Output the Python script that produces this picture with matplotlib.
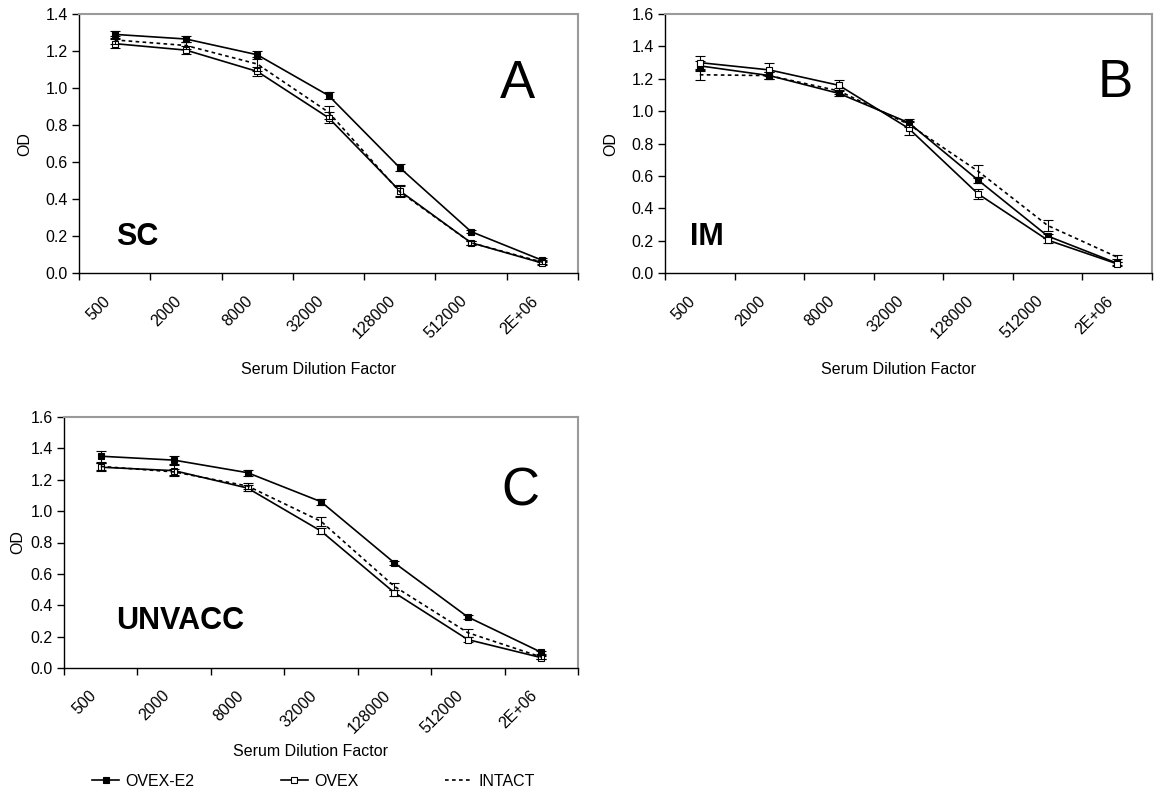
import matplotlib
matplotlib.use('Agg')
import matplotlib.pyplot as plt
import matplotlib.transforms as mtransforms
import numpy as np
from matplotlib.ticker import FormatStrFormatter
from matplotlib.lines import Line2D

plt.rcParams['font.family'] = ['Liberation Sans', 'DejaVu Sans']

categories = ['500', '2000', '8000', '32000', '128000', '512000', '2E+06']
series_names = ['OVEX-E2', 'OVEX', 'INTACT']

# Panel A (SC)
e2_A = [1.29, 1.265, 1.18, 0.96, 0.57, 0.225, 0.07]
e2_A_err = [0.02, 0.015, 0.022, 0.02, 0.02, 0.01, 0.01]
ovex_A = [1.24, 1.205, 1.09, 0.84, 0.445, 0.165, 0.055]
ovex_A_err = [0.025, 0.02, 0.025, 0.03, 0.03, 0.01, 0.01]
intact_A = [1.26, 1.23, 1.13, 0.87, 0.44, 0.165, 0.06]
intact_A_err = [0.02, 0.02, 0.04, 0.035, 0.03, 0.01, 0.01]

# Panel B (IM)
e2_B = [1.28, 1.22, 1.11, 0.93, 0.575, 0.23, 0.062]
e2_B_err = [0.03, 0.02, 0.015, 0.02, 0.02, 0.015, 0.01]
ovex_B = [1.30, 1.255, 1.16, 0.895, 0.49, 0.205, 0.058]
ovex_B_err = [0.04, 0.04, 0.03, 0.04, 0.03, 0.015, 0.01]
intact_B = [1.225, 1.22, 1.125, 0.92, 0.63, 0.295, 0.10]
intact_B_err = [0.03, 0.02, 0.02, 0.02, 0.04, 0.035, 0.013]

# Panel C (UNVACC)
e2_C = [1.35, 1.325, 1.245, 1.06, 0.67, 0.325, 0.10]
e2_C_err = [0.035, 0.025, 0.02, 0.02, 0.015, 0.01, 0.01]
ovex_C = [1.28, 1.258, 1.147, 0.873, 0.48, 0.181, 0.066]
ovex_C_err = [0.025, 0.035, 0.02, 0.02, 0.02, 0.015, 0.01]
intact_C = [1.285, 1.25, 1.16, 0.935, 0.52, 0.225, 0.07]
intact_C_err = [0.02, 0.02, 0.02, 0.03, 0.025, 0.025, 0.01]

W, H = 1162, 793
fig = plt.figure(figsize=(W / 100, H / 100), dpi=100)


def box(l, t, r, b):
    return [l / W, 1 - b / H, (r - l) / W, (b - t) / H]


FS = 11.5


def panel(ax, ymax, e2, e2err, ov, overr, it, iterr, letter, letter_pos,
          tag, tag_pos, ylab_x, xlab_y):
    n = len(categories)
    x = np.arange(n)
    ax.errorbar(x, e2, yerr=e2err, color='black', lw=1.2, marker='s', ms=4.8,
                mfc='black', mec='black', mew=0.8, ecolor='black', elinewidth=0.8,
                capsize=3.5, capthick=0.8, zorder=3)
    ax.errorbar(x, ov, yerr=overr, color='black', lw=1.2, marker='s', ms=4.8,
                mfc='white', mec='black', mew=0.8, ecolor='black', elinewidth=0.8,
                capsize=3.5, capthick=0.8, zorder=4)
    ln = ax.errorbar(x, it, yerr=iterr, color='black', lw=1.2, ecolor='black',
                     elinewidth=0.8, capsize=3.5, capthick=0.8, zorder=5)
    ln[0].set_dashes((2.2, 2.0))
    ax.set_xlim(-0.5, n - 0.5)
    ax.set_ylim(0, ymax)
    ax.set_yticks(np.arange(0, ymax + 0.001, 0.2))
    ax.yaxis.set_major_formatter(FormatStrFormatter('%.1f'))
    ax.set_xticks(x)
    ax.set_xticklabels(categories, rotation=45, ha='right', rotation_mode='anchor')
    ax.set_xticks(np.arange(-0.5, n, 1.0), minor=True)
    ax.tick_params(axis='x', which='major', length=0, pad=18, labelsize=FS)
    ax.tick_params(axis='x', which='minor', length=5, width=1, direction='out')
    ax.tick_params(axis='y', length=5, width=1, direction='out', labelsize=FS, pad=3)
    offset = mtransforms.ScaledTranslation(-12 / 100, 5 / 100, fig.dpi_scale_trans)
    for lab in ax.get_xticklabels():
        lab.set_transform(lab.get_transform() + offset)
    for s in ['left', 'bottom']:
        ax.spines[s].set_color('black')
        ax.spines[s].set_linewidth(1.0)
    for s in ['top', 'right']:
        ax.spines[s].set_color('#9a9a9a')
        ax.spines[s].set_linewidth(1.5)
    ax.set_ylabel('OD', fontsize=FS)
    ax.yaxis.set_label_coords(ylab_x, 0.5)
    ax.set_xlabel('Serum Dilution Factor', fontsize=FS)
    ax.xaxis.set_label_coords(0.48, xlab_y)
    ax.text(letter_pos[0], letter_pos[1], letter, transform=ax.transAxes,
            fontsize=38, ha='left', va='baseline')
    ax.text(tag_pos[0], tag_pos[1], tag, transform=ax.transAxes,
            fontsize=22, fontweight='bold', ha='left', va='baseline')


axA = fig.add_axes(box(79, 14, 578, 273.3))
axB = fig.add_axes(box(665, 14, 1152, 273.3))
axC = fig.add_axes(box(64, 417, 578, 668))

panel(axA, 1.4, e2_A, e2_A_err, ovex_A, ovex_A_err, intact_A, intact_A_err,
      'A', (0.844, 0.676), 'SC', (0.074, 0.109), -0.094, -0.342)
panel(axB, 1.6, e2_B, e2_B_err, ovex_B, ovex_B_err, intact_B, intact_B_err,
      'B', (0.888, 0.679), 'IM', (0.052, 0.109), -0.097, -0.342)
panel(axC, 1.6, e2_C, e2_C_err, ovex_C, ovex_C_err, intact_C, intact_C_err,
      'C', (0.85, 0.648), 'UNVACC', (0.102, 0.157), -0.075, -0.303)

handles = [
    Line2D([], [], color='black', lw=1.2, marker='s', ms=4.8, mfc='black', mec='black', mew=0.8),
    Line2D([], [], color='black', lw=1.2, marker='s', ms=4.8, mfc='white', mec='black', mew=0.8),
    Line2D([], [], color='black', lw=1.2, dashes=(2.2, 2.0)),
]
fig.legend(handles, series_names, loc='center left', bbox_to_anchor=(92 / W, 1 - 781 / H),
           ncol=3, frameon=False, fontsize=FS, handlelength=1.7, handletextpad=0.4,
           columnspacing=5.4, borderaxespad=0, borderpad=0)

fig.savefig('out.png', dpi=100)
